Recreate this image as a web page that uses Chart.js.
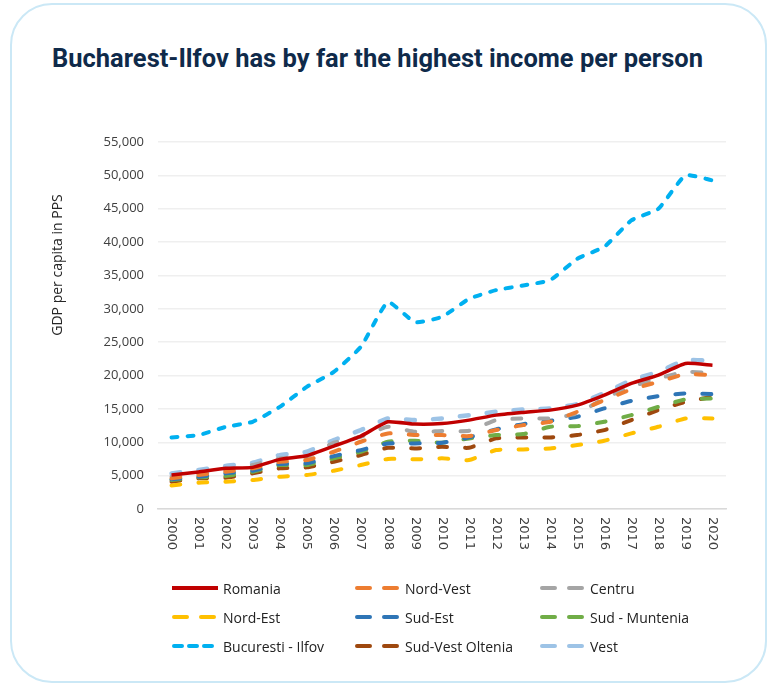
<!DOCTYPE html>
<html>
<head>
<meta charset="utf-8">
<script src="https://cdn.jsdelivr.net/npm/chart.js@4.4.0/dist/chart.umd.min.js"></script>
<style>
  html, body { margin: 0; padding: 0; background: #ffffff; }
  body { width: 771px; height: 688px; position: relative; overflow: hidden; font-family: "Open Sans", sans-serif; }
  .card {
    position: absolute; left: 10px; top: 3px; width: 757px; height: 680px;
    border: 2px solid #cbe8f6; border-radius: 42px; box-sizing: border-box;
  }
  #title {
    position: absolute; left: 52px; top: 44px; margin: 0;
    font-family: Roboto, "Open Sans", sans-serif; font-weight: 700; font-size: 25px;
    color: #0f2a4a; white-space: nowrap; transform-origin: left center;
  }
  #chart { position: absolute; left: 0; top: 0; }
  .leg { position: absolute; height: 20px; display: flex; align-items: center; font-size: 14px; color: #222; white-space: nowrap; }
  .leg svg { margin-right: 5px; }
</style>
</head>
<body>
<div class="card"></div>
<h1 id="title">Bucharest-Ilfov has by far the highest income per person</h1>
<canvas id="chart" width="771" height="688"></canvas>
<div id="legend"></div>
<script>
  // Years on the x axis
  const years = ["2000", "2001", "2002", "2003", "2004", "2005", "2006", "2007", "2008", "2009", "2010",
    "2011", "2012", "2013", "2014", "2015", "2016", "2017", "2018", "2019", "2020"];

  // GDP per capita in PPS
  const romania = [5090, 5550, 6090, 6240, 7440, 7980, 9430, 10930, 13070, 12720, 12800,
    13320, 14070, 14470, 14820, 15570, 17070, 18820, 20060, 21810, 21560];
  const nordVest = [4590, 5090, 5590, 6090, 7080, 7330, 8580, 10080, 11330, 11080, 11080,
    10930, 11830, 12570, 13070, 14570, 16320, 17920, 19060, 20210, 20060];
  const centru = [4840, 5240, 5840, 6590, 7590, 7830, 9930, 10830, 12320, 11570, 11680,
    11720, 13320, 13570, 13570, 14320, 16570, 18310, 19560, 20560, 20310];
  const nordEst = [3520, 3940, 4090, 4340, 4840, 5090, 5740, 6590, 7500, 7440, 7590,
    7330, 8830, 8930, 9080, 9580, 10230, 11330, 12320, 13570, 13570];
  const sudEst = [4440, 4840, 5340, 5740, 6740, 6840, 7930, 8830, 9830, 9830, 9930,
    10730, 11930, 12720, 13220, 13820, 15070, 16210, 16920, 17320, 17220];
  const sudMuntenia = [4340, 4740, 4940, 5590, 6590, 6590, 7590, 8580, 10080, 10230, 9930,
    10580, 11080, 11230, 12320, 12420, 13070, 14070, 15310, 16420, 16570];
  const bucuresti = [10730, 11080, 12300, 13070, 15300, 18300, 20550, 24300, 31000, 28000, 28800,
    31500, 32800, 33500, 34300, 37500, 39300, 43250, 45000, 50000, 49250];
  const sudVestOltenia = [4090, 4590, 4690, 5340, 6090, 6240, 7080, 8080, 9180, 9080, 9330,
    9180, 10580, 10730, 10730, 11080, 11830, 13320, 14820, 16060, 16810];
  const vest = [5340, 5840, 6440, 6930, 8080, 8580, 10330, 11830, 13570, 13320, 13570,
    14070, 14570, 14920, 15070, 15720, 17410, 19310, 20560, 22300, 22200];

  const seriesNames = ["Romania", "Nord-Vest", "Centru", "Nord-Est", "Sud-Est", "Sud - Muntenia",
    "Bucuresti - Ilfov", "Sud-Vest Oltenia", "Vest"];
  const seriesValues = [romania, nordVest, centru, nordEst, sudEst, sudMuntenia, bucuresti, sudVestOltenia, vest];
  const seriesColors = ["#c00000", "#ed7d31", "#a5a5a5", "#ffc000", "#2e75b6", "#70ad47", "#00b0f0", "#9e480e", "#9dc3e6"];

  const yTicks = [0, 5000, 10000, 15000, 20000, 25000, 30000, 35000, 40000, 45000, 50000, 55000];

  // Fit the title to the width it has in the picture
  const title = document.getElementById("title");
  const tw = title.getBoundingClientRect().width;
  title.style.transform = "scaleX(" + (651 / tw) + ")";

  const datasets = seriesNames.map((name, i) => {
    const solid = i === 0;
    const buc = name === "Bucuresti - Ilfov";
    return {
      label: name,
      data: seriesValues[i],
      borderColor: seriesColors[i],
      backgroundColor: seriesColors[i],
      borderWidth: solid ? 3.5 : (name === "Vest" ? 4.5 : 4),
      borderDash: solid ? [] : (buc ? [6, 10] : [9, 18]),
      borderCapStyle: solid ? "butt" : "round",
      pointRadius: 0,
      fill: false,
      tension: 0.15
    };
  });

  // Rotated year labels (top to bottom) and the y axis title
  const extraText = {
    id: "extraText",
    afterDraw(chart) {
      const ctx = chart.ctx;
      const xs = chart.scales.x;
      const bottom = chart.chartArea.bottom;
      ctx.save();
      ctx.fillStyle = "#404040";
      ctx.font = "13px 'DejaVu Sans'";
      ctx.textAlign = "left";
      ctx.textBaseline = "middle";
      years.forEach((y, i) => {
        ctx.save();
        ctx.translate(xs.getPixelForTick(i), bottom + 8);
        ctx.rotate(Math.PI / 2);
        ctx.fillText(y, 0, 0);
        ctx.restore();
      });
      ctx.translate(58, 265);
      ctx.rotate(-Math.PI / 2);
      ctx.textAlign = "center";
      ctx.fillStyle = "#262626";
      ctx.font = "14px 'Open Sans'";
      ctx.fillText("GDP per capita in PPS", 0, 0);
      ctx.restore();
    }
  };

  new Chart(document.getElementById("chart"), {
    type: "line",
    data: { labels: years, datasets: datasets },
    options: {
      responsive: false,
      animation: false,
      layout: { padding: { left: 40, right: 45, top: 142, bottom: 129 } },
      plugins: { legend: { display: false }, tooltip: { enabled: false } },
      scales: {
        x: {
          offset: true,
          grid: { display: false },
          border: { display: true, color: "#d9d9d9", width: 1.5 },
          ticks: { display: false },
          afterFit: (s) => { s.height = 50; }
        },
        y: {
          min: 0,
          max: 55000,
          afterBuildTicks: (s) => { s.ticks = yTicks.map(v => ({ value: v })); },
          grid: { color: "#efefef", lineWidth: 1.5, drawTicks: false },
          border: { display: false },
          ticks: {
            padding: 14,
            color: "#404040",
            font: { family: "Open Sans", size: 13 },
            callback: (v) => v.toLocaleString("en-US")
          },
          afterFit: (s) => { s.width = 118; }
        }
      }
    },
    plugins: [extraText]
  });

  // Legend, three columns like the original
  const legendCols = [172, 355, 540];
  const legendRows = [588, 617, 646];
  const legend = document.getElementById("legend");
  seriesNames.forEach((name, i) => {
    const div = document.createElement("div");
    div.className = "leg";
    div.style.left = legendCols[i % 3] + "px";
    div.style.top = (legendRows[Math.floor(i / 3)] - 10) + "px";
    let dash = "";
    if (i > 0) dash = name === "Bucuresti - Ilfov" ? "8 7" : "13 14";
    const cap = i === 0 ? "butt" : "round";
    const w = i === 0 ? 46 : (i % 3 === 0 ? 46 : 45);
    div.innerHTML =
      '<svg width="' + w + '" height="8"><line x1="' + (i === 0 ? 0 : 2) + '" y1="4" x2="' + (i === 0 ? 46 : 44) +
      '" y2="4" stroke="' + seriesColors[i] + '" stroke-width="4" stroke-linecap="' + cap + '"' +
      (dash ? ' stroke-dasharray="' + dash + '"' : "") + '/></svg><span>' + name + '</span>';
    legend.appendChild(div);
  });
</script>
</body>
</html>
